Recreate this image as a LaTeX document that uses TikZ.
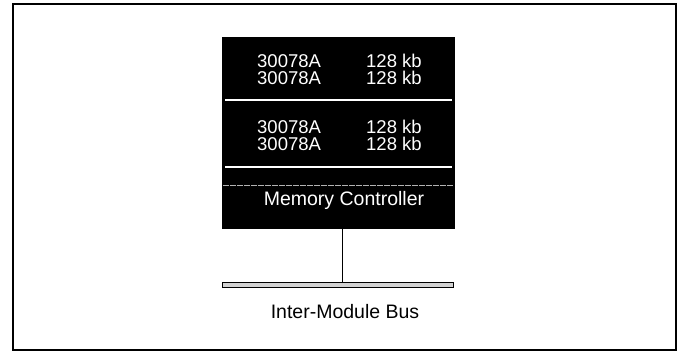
\documentclass[tikz,border=0pt]{standalone}
\usepackage{fontspec}
\setmainfont{Liberation Sans}
\usepackage{xcolor}
\usepackage{tikz}
\usetikzlibrary{positioning}

\begin{document}
\begin{tikzpicture}[x=1pt,y=-1pt,
  chiptext/.style={text=white, anchor=west, inner sep=0pt, font=\fontsize{18.5}{20}\selectfont}]
\useasboundingbox (0,0) rectangle (678,352);
\draw[line width=1.4pt](13,4) rectangle (676,350);
\node[fill=black, minimum width=233pt, minimum height=192pt, inner sep=0pt] (Mem) at (338.5,133) {};
\draw[white, line width=1.6pt](225,100) -- (452,100);
\draw[white, line width=1.6pt](225,167) -- (452,167);
\draw[white!70!black, line width=0.6pt, dashed, dash pattern=on 6pt off 1pt](223,185) -- (454,185);
\node[chiptext] (Chip1) at (257,61){30078A};  \node[chiptext] (Size1) at (366,61){128 kb};
\node[chiptext] (Chip2) at (257,78){30078A};  \node[chiptext] (Size2) at (366,78){128 kb};
\node[chiptext] (Chip3) at (257,127){30078A}; \node[chiptext] (Size3) at (366,127){128 kb};
\node[chiptext] (Chip4) at (257,144){30078A}; \node[chiptext] (Size4) at (366,144){128 kb};
\node[chiptext, anchor=center, font=\fontsize{19.5}{21}\selectfont] (Ctrl) at (344,200){Memory Controller};
\node[draw, fill=gray!35, line width=0.6pt, minimum width=231pt, minimum height=5pt, inner sep=0pt] (Bus) at (337.5,284.5){};
\coordinate (Tap) at (342,229);
\draw[line width=0.8pt] (Tap) -- (Tap |- Bus.north);
\node[font=\fontsize{19.5}{21}\selectfont, inner sep=0pt] (BusLabel) at (345,312){Inter-Module Bus};
\end{tikzpicture}
\end{document}
